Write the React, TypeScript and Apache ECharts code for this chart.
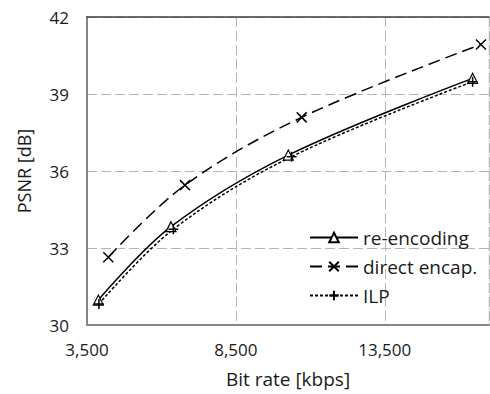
import React, { useEffect, useRef } from "react";
import * as echarts from "echarts";

const seriesNames = ["re-encoding", "direct encap.", "ILP"];
const reEncX = [3880, 6320, 10260, 16450];
const reEncY = [30.97, 33.83, 36.62, 39.61];
const directX = [4215, 6790, 10710, 16730];
const directY = [32.64, 35.45, 38.09, 40.93];
const ilpX = [3900, 6400, 10370, 16450];
const ilpY = [30.82, 33.73, 36.56, 39.48];

const FONT = "Open Sans";

function pairs(xs: number[], ys: number[]) {
  return xs.map((x, i) => [x, ys[i]]);
}

export default function App() {
  const ref = useRef<HTMLDivElement>(null);
  useEffect(() => {
    if (!ref.current) return;
    const chart = echarts.init(ref.current, undefined, { renderer: "svg" });
    const xMark = "path://M0,0L10,10M10,0L0,10";
    const plusMark = "path://M5,0L5,10M0,5L10,5";
    chart.setOption({
      animation: false,
      backgroundColor: "#fff",
      textStyle: { fontFamily: FONT },
      grid: {
        left: 87,
        top: 17,
        right: 1,
        bottom: 69,
        show: true,
        borderColor: "#d9d9d9",
        borderWidth: 1,
      },
      legend: {
        orient: "vertical",
        left: 304,
        top: 222,
        itemWidth: 48,
        itemHeight: 12,
        itemGap: 8,
        data: seriesNames,
        textStyle: { fontFamily: FONT, fontSize: 19, color: "#1a1a1a", lineHeight: 21 },
      },
      xAxis: [
        {
          type: "value",
          min: 3500,
          max: 17000,
          interval: 5000,
          name: "Bit rate [kbps]",
          nameLocation: "middle",
          nameGap: 44,
          nameTextStyle: { fontFamily: FONT, fontSize: 19, color: "#1a1a1a" },
          axisLine: { show: true, lineStyle: { color: "#868686", width: 2 } },
          axisTick: { show: false },
          axisLabel: {
            margin: 16,
            fontFamily: FONT,
            fontSize: 17,
            color: "#1a1a1a",
            showMaxLabel: false,
            formatter: (v: number) => v.toLocaleString("en-US"),
          },
          splitLine: {
            show: true,
            lineStyle: { color: "#b5b5b5", type: [10, 4], width: 1 },
          },
        },
        {
          type: "value",
          position: "top",
          min: 3500,
          max: 17000,
          interval: 5000,
          axisLine: { show: true, lineStyle: { color: "#404040", width: 1.5 } },
          axisTick: { show: false },
          axisLabel: { show: false },
          splitLine: { show: false },
        },
      ],
      yAxis: {
        type: "value",
        min: 30,
        max: 42,
        interval: 3,
        name: "PSNR [dB]",
        nameLocation: "middle",
        nameGap: 54,
        nameTextStyle: { fontFamily: FONT, fontSize: 18, color: "#1a1a1a" },
        axisLine: { show: true, lineStyle: { color: "#868686", width: 2 } },
        axisTick: { show: false },
        axisLabel: { margin: 18, fontFamily: FONT, fontSize: 17, color: "#1a1a1a" },
        splitLine: {
          show: true,
          lineStyle: { color: "#b5b5b5", type: [10, 4], width: 1 },
        },
      },
      series: [
        {
          name: seriesNames[0],
          type: "line",
          smooth: 0.35,
          data: pairs(reEncX, reEncY),
          symbol: "triangle",
          symbolSize: 10,
          lineStyle: { color: "#000", width: 1.5, type: "solid" },
          itemStyle: { color: "#fff", borderColor: "#000", borderWidth: 1.2 },
          z: 3,
        },
        {
          name: seriesNames[1],
          type: "line",
          smooth: 0.35,
          data: pairs(directX, directY),
          symbol: xMark,
          symbolSize: 10,
          lineStyle: { color: "#000", width: 1.5, type: [12, 6] },
          itemStyle: { color: "#fff", borderColor: "#000", borderWidth: 1.5 },
          z: 3,
        },
        {
          name: seriesNames[2],
          type: "line",
          smooth: 0.35,
          data: pairs(ilpX, ilpY),
          symbol: plusMark,
          symbolSize: 10,
          lineStyle: { color: "#000", width: 1.5, type: [3, 2] },
          itemStyle: { color: "#fff", borderColor: "#000", borderWidth: 1.5 },
          z: 3,
        },
      ],
    });
    return () => chart.dispose();
  }, []);
  return <div ref={ref} style={{ width: 490, height: 394, position: "absolute", left: 0, top: 0 }} />;
}
